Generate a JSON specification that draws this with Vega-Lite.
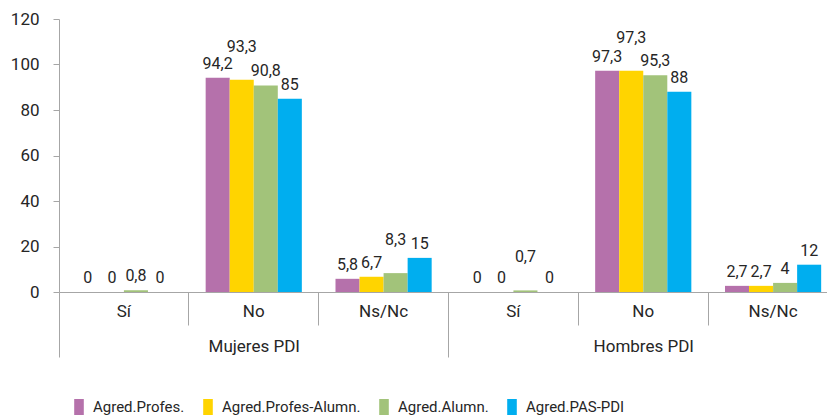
{
  "$schema": "https://vega.github.io/schema/vega-lite/v6.json",
  "width": 779,
  "height": 273,
  "autosize": {"type": "none"},
  "padding": {"left": 59, "top": 19, "right": 0, "bottom": 125},
  "config": {
    "view": {"stroke": null},
    "locale": {"number": {"decimal": ",", "thousands": ".", "grouping": [3], "currency": ["", " €"]}},
    "font": "Roboto, sans-serif",
    "axis": {"labelFont": "Roboto, sans-serif", "labelColor": "#262626", "labelFontSize": 17, "domainColor": "#A6A6A6", "tickColor": "#A6A6A6", "grid": false},
    "legend": {"labelFont": "Roboto, sans-serif"}
  },
  "data": {"values": [
    {"grupo": "Mujeres PDI", "resp": "Sí", "cat": "M|Sí", "serie": "Agred.Profes.", "valor": 0},
    {"grupo": "Mujeres PDI", "resp": "Sí", "cat": "M|Sí", "serie": "Agred.Profes-Alumn.", "valor": 0},
    {"grupo": "Mujeres PDI", "resp": "Sí", "cat": "M|Sí", "serie": "Agred.Alumn.", "valor": 0.8},
    {"grupo": "Mujeres PDI", "resp": "Sí", "cat": "M|Sí", "serie": "Agred.PAS-PDI", "valor": 0},
    {"grupo": "Mujeres PDI", "resp": "No", "cat": "M|No", "serie": "Agred.Profes.", "valor": 94.2},
    {"grupo": "Mujeres PDI", "resp": "No", "cat": "M|No", "serie": "Agred.Profes-Alumn.", "valor": 93.3},
    {"grupo": "Mujeres PDI", "resp": "No", "cat": "M|No", "serie": "Agred.Alumn.", "valor": 90.8},
    {"grupo": "Mujeres PDI", "resp": "No", "cat": "M|No", "serie": "Agred.PAS-PDI", "valor": 85},
    {"grupo": "Mujeres PDI", "resp": "Ns/Nc", "cat": "M|Ns/Nc", "serie": "Agred.Profes.", "valor": 5.8},
    {"grupo": "Mujeres PDI", "resp": "Ns/Nc", "cat": "M|Ns/Nc", "serie": "Agred.Profes-Alumn.", "valor": 6.7},
    {"grupo": "Mujeres PDI", "resp": "Ns/Nc", "cat": "M|Ns/Nc", "serie": "Agred.Alumn.", "valor": 8.3},
    {"grupo": "Mujeres PDI", "resp": "Ns/Nc", "cat": "M|Ns/Nc", "serie": "Agred.PAS-PDI", "valor": 15},
    {"grupo": "Hombres PDI", "resp": "Sí", "cat": "H|Sí", "serie": "Agred.Profes.", "valor": 0},
    {"grupo": "Hombres PDI", "resp": "Sí", "cat": "H|Sí", "serie": "Agred.Profes-Alumn.", "valor": 0},
    {"grupo": "Hombres PDI", "resp": "Sí", "cat": "H|Sí", "serie": "Agred.Alumn.", "valor": 0.7},
    {"grupo": "Hombres PDI", "resp": "Sí", "cat": "H|Sí", "serie": "Agred.PAS-PDI", "valor": 0},
    {"grupo": "Hombres PDI", "resp": "No", "cat": "H|No", "serie": "Agred.Profes.", "valor": 97.3},
    {"grupo": "Hombres PDI", "resp": "No", "cat": "H|No", "serie": "Agred.Profes-Alumn.", "valor": 97.3},
    {"grupo": "Hombres PDI", "resp": "No", "cat": "H|No", "serie": "Agred.Alumn.", "valor": 95.3},
    {"grupo": "Hombres PDI", "resp": "No", "cat": "H|No", "serie": "Agred.PAS-PDI", "valor": 88},
    {"grupo": "Hombres PDI", "resp": "Ns/Nc", "cat": "H|Ns/Nc", "serie": "Agred.Profes.", "valor": 2.7},
    {"grupo": "Hombres PDI", "resp": "Ns/Nc", "cat": "H|Ns/Nc", "serie": "Agred.Profes-Alumn.", "valor": 2.7},
    {"grupo": "Hombres PDI", "resp": "Ns/Nc", "cat": "H|Ns/Nc", "serie": "Agred.Alumn.", "valor": 4},
    {"grupo": "Hombres PDI", "resp": "Ns/Nc", "cat": "H|Ns/Nc", "serie": "Agred.PAS-PDI", "valor": 12}
  ]},
  "layer": [
    {
      "layer": [
        {
          "mark": {"type": "bar"},
          "encoding": {
            "color": {
              "field": "serie", "type": "nominal",
              "scale": {"domain": ["Agred.Profes.", "Agred.Profes-Alumn.", "Agred.Alumn.", "Agred.PAS-PDI"], "range": ["#B571AB", "#FFD400", "#A2C37A", "#00AEEF"]},
              "legend": {
                "title": null, "orient": "none", "direction": "horizontal",
                "legendX": 12, "legendY": 380,
                "symbolType": "M-0.6,-1H0.6V1H-0.6Z", "symbolSize": 256, "symbolStrokeWidth": 0, "symbolOpacity": 1,
                "labelFontSize": 15, "labelColor": "#262626", "columnPadding": 15, "labelOffset": 6, "padding": 0
              }
            }
          }
        },
        {
          "transform": [{"filter": "!((datum.cat == 'M|No' || datum.cat == 'H|No') && datum.serie == 'Agred.Profes-Alumn.') && !(datum.cat == 'M|Ns/Nc' && datum.serie == 'Agred.Alumn.') && !(datum.cat == 'H|Sí' && datum.serie == 'Agred.Alumn.')"}],
          "mark": {"type": "text", "baseline": "bottom", "dy": -6, "fontSize": 16, "color": "#262626"},
          "encoding": {"text": {"field": "valor", "type": "quantitative", "format": ".1~f"}}
        },
        {
          "transform": [{"filter": "((datum.cat == 'M|No' || datum.cat == 'H|No') && datum.serie == 'Agred.Profes-Alumn.') || (datum.cat == 'M|Ns/Nc' && datum.serie == 'Agred.Alumn.') || (datum.cat == 'H|Sí' && datum.serie == 'Agred.Alumn.')"}],
          "mark": {"type": "text", "baseline": "bottom", "dy": -25, "fontSize": 16, "color": "#262626"},
          "encoding": {"text": {"field": "valor", "type": "quantitative", "format": ".1~f"}}
        }
      ],
      "encoding": {
        "x": {
          "field": "cat", "type": "nominal",
          "sort": ["M|Sí", "M|No", "M|Ns/Nc", "H|Sí", "H|No", "H|Ns/Nc"],
          "scale": {"paddingInner": 0, "paddingOuter": 0},
          "axis": {
            "title": null, "labelAngle": 0, "bandPosition": 0, "orient": "bottom",
            "labelExpr": "split(datum.value, '|')[1]",
            "tickSize": {"condition": {"test": "indexof(datum.value, '|Sí') >= 0", "value": 65}, "value": 33},
            "labelPadding": {"condition": {"test": "indexof(datum.value, '|Sí') >= 0", "value": -54}, "value": -22},
            "labelBaseline": "top"
          }
        },
        "xOffset": {"field": "serie", "type": "nominal", "sort": ["Agred.Profes.", "Agred.Profes-Alumn.", "Agred.Alumn.", "Agred.PAS-PDI"], "scale": {"paddingInner": 0, "paddingOuter": 0.7}},
        "y": {
          "field": "valor", "type": "quantitative",
          "scale": {"domain": [0, 120], "nice": false},
          "axis": {"title": null, "values": [0, 20, 40, 60, 80, 100, 120], "tickSize": 6, "labelPadding": 14}
        }
      }
    },
    {
      "mark": {"type": "text", "opacity": 0},
      "encoding": {
        "x": {
          "field": "grupo", "type": "nominal",
          "sort": ["Mujeres PDI", "Hombres PDI"],
          "scale": {"paddingInner": 0, "paddingOuter": 0},
          "axis": {"title": null, "orient": "bottom", "labelAngle": 0, "ticks": false, "domain": false, "labelPadding": 46, "labelBaseline": "top"}
        },
        "text": {"value": ""}
      }
    }
  ],
  "resolve": {"scale": {"x": "independent", "xOffset": "independent"}}
}
